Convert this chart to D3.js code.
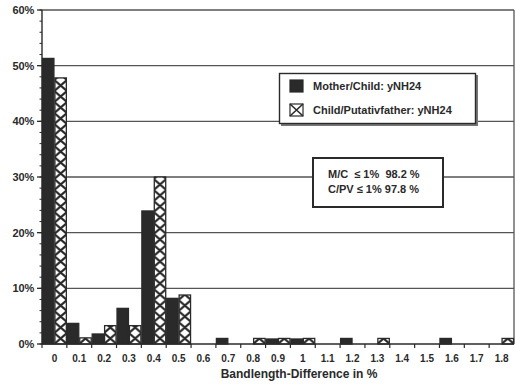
<!DOCTYPE html>
<html>
<head>
<meta charset="utf-8">
<script src="https://cdn.jsdelivr.net/npm/d3@7"></script>
<style>
  html, body { margin: 0; padding: 0; background: #fff; }
  svg { display: block; }
  text { font-family: "Liberation Sans", Arial, sans-serif; font-weight: bold; fill: #2a2a2a; }
</style>
</head>
<body>
<svg id="chart" width="515" height="385"></svg>
<script>
const categories = ["0","0.1","0.2","0.3","0.4","0.5","0.6","0.7","0.8","0.9","1","1.1","1.2","1.3","1.4","1.5","1.6","1.7","1.8"];
const motherChild = [51.3, 3.7, 1.8, 6.4, 23.9, 8.2, 0, 1.0, 0, 0.9, 0.9, 0, 1.0, 0, 0, 0, 1.0, 0, 0];
const childFather = [47.8, 1.1, 3.3, 3.3, 30.0, 8.8, 0, 0, 1.0, 1.0, 1.0, 0, 0, 1.0, 0, 0, 0, 0, 1.0];
const seriesNames = ["Mother/Child: yNH24", "Child/Putativfather: yNH24"];
const yTicks = [0, 10, 20, 30, 40, 50, 60];
const yMinorTicks = d3.range(0, 61, 2);
const summaryLines = ["M/C  \u2264 1%  98.2 %", "C/PV \u2264 1% 97.8 %"];
const xTitle = "Bandlength-Difference in %";

(function () {
const svg = d3.select("#chart");
const mLeft = 42, mRight = 514, mTop = 10, mBottom = 344;
const ink = "#2a2a2a";

const x = d3.scaleBand().domain(categories).range([mLeft, mRight]).padding(0);
const xs = d3.scaleBand().domain([0, 1]).range([0, x.bandwidth()]).padding(0);
const y = d3.scaleLinear().domain([0, 60]).range([mBottom, mTop]);

// hatch pattern
const defs = svg.append("defs");
const pw = xs.bandwidth(), ph = 11;
const pat = defs.append("pattern").attr("id", "hatch")
  .attr("patternUnits", "userSpaceOnUse")
  .attr("x", mLeft + pw).attr("y", mBottom)
  .attr("width", pw).attr("height", ph);
pat.append("rect").attr("width", pw).attr("height", ph).attr("fill", "#fff");
pat.append("path").attr("d", `M0,0 L${pw},${ph} M${pw},0 L0,${ph}`)
  .attr("stroke", ink).attr("stroke-width", 2.1).attr("fill", "none");

// gridlines
svg.append("g").selectAll("line").data(yTicks.filter(d => d > 0)).join("line")
  .attr("x1", mLeft).attr("x2", mRight)
  .attr("y1", d => y(d)).attr("y2", d => y(d))
  .attr("stroke", "#555").attr("stroke-width", 1.3);
svg.append("line").attr("x1", mRight).attr("x2", mRight).attr("y1", y(60)).attr("y2", y(0))
  .attr("stroke", "#555").attr("stroke-width", 1.3);

// legend box 1
const lg = svg.append("g");
lg.append("rect").attr("x", 281).attr("y", 75).attr("width", 197).attr("height", 51).attr("fill", "#777");
lg.append("rect").attr("x", 279.5).attr("y", 73.5).attr("width", 196).attr("height", 50)
  .attr("fill", "#fff").attr("stroke", ink).attr("stroke-width", 1.4);
seriesNames.forEach((name, i) => {
  const yy = 80 + i * 24;
  lg.append("rect").attr("x", 290).attr("y", yy).attr("width", 13).attr("height", 12)
    .attr("fill", i === 0 ? ink : "#fff").attr("stroke", ink).attr("stroke-width", 1.2);
  if (i === 1) {
    lg.append("path").attr("d", `M290,${yy} L303,${yy+12} M303,${yy} L290,${yy+12}`)
      .attr("stroke", ink).attr("stroke-width", 1.6);
  }
  lg.append("text").attr("x", 313).attr("y", yy + 10).attr("font-size", 11).text(name);
});

// summary box
const sb = svg.append("g");
sb.append("rect").attr("x", 313).attr("y", 158).attr("width", 130).attr("height", 49)
  .attr("fill", "#fff").attr("stroke", ink).attr("stroke-width", 2);
summaryLines.forEach((t, i) => {
  sb.append("text").attr("x", 328).attr("y", 178 + i * 15).attr("font-size", 11)
    .style("white-space", "pre").text(t);
});

// bars
const bars = svg.append("g");
categories.forEach((c, i) => {
  [motherChild[i], childFather[i]].forEach((v, k) => {
    if (v <= 0) return;
    bars.append("rect")
      .attr("x", x(c) + xs(k) + 0.5)
      .attr("y", y(v))
      .attr("width", xs.bandwidth() - 1)
      .attr("height", y(0) - y(v))
      .attr("fill", k === 0 ? ink : "url(#hatch)")
      .attr("stroke", ink).attr("stroke-width", 1.3);
  });
});

// y axis
const yAxis = svg.append("g");
yAxis.append("line").attr("x1", mLeft).attr("x2", mLeft).attr("y1", y(60)).attr("y2", y(0))
  .attr("stroke", ink).attr("stroke-width", 1.4);
yAxis.selectAll(".minor").data(yMinorTicks).join("line").attr("class", "minor")
  .attr("x1", mLeft - 2.5).attr("x2", mLeft).attr("y1", d => y(d)).attr("y2", d => y(d))
  .attr("stroke", ink).attr("stroke-width", 1);
yAxis.selectAll(".major").data(yTicks).join("line").attr("class", "major")
  .attr("x1", mLeft - 5).attr("x2", mLeft).attr("y1", d => y(d)).attr("y2", d => y(d))
  .attr("stroke", ink).attr("stroke-width", 1.3);
yAxis.selectAll("text").data(yTicks).join("text")
  .attr("x", mLeft - 8).attr("y", d => y(d) + 4).attr("text-anchor", "end")
  .attr("font-size", 11).attr("letter-spacing", -0.2).text(d => d + "%");

// x axis
const xAxis = svg.append("g");
xAxis.append("line").attr("x1", mLeft).attr("x2", mRight).attr("y1", mBottom).attr("y2", mBottom)
  .attr("stroke", ink).attr("stroke-width", 1.4);
xAxis.selectAll(".tk").data(categories).join("line").attr("class", "tk")
  .attr("x1", d => x(d)).attr("x2", d => x(d)).attr("y1", mBottom).attr("y2", mBottom + 4)
  .attr("stroke", ink).attr("stroke-width", 1.2);
xAxis.selectAll("text").data(categories).join("text")
  .attr("x", d => x(d) + x.bandwidth() / 2).attr("y", mBottom + 18)
  .attr("text-anchor", "middle").attr("font-size", 10).text(d => d);
svg.append("text").attr("x", 299).attr("y", 378).attr("text-anchor", "middle")
  .attr("font-size", 12).text(xTitle);
})();
</script>
</body>
</html>
